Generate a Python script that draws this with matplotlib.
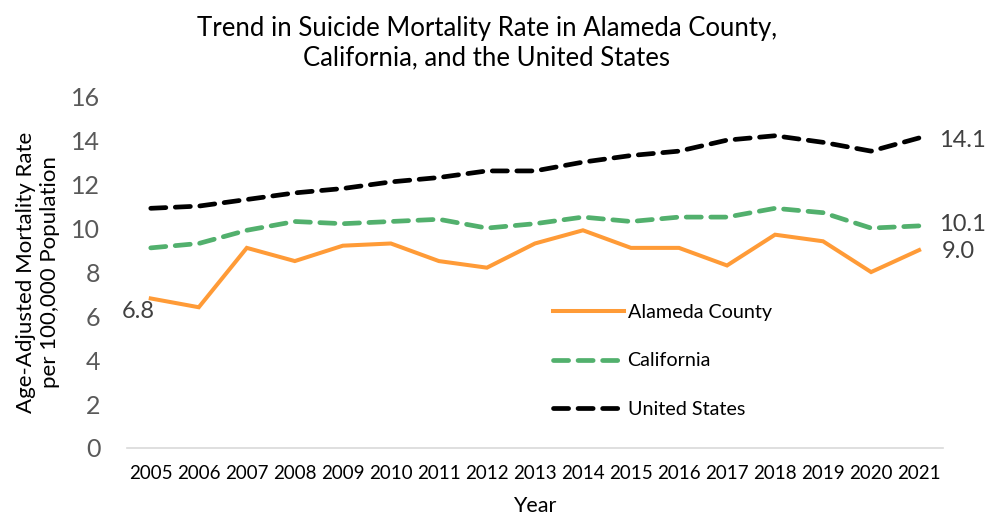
import matplotlib.pyplot as plt

# data
years = [str(y) for y in range(2005, 2022)]
alameda = [6.8, 6.4, 9.1, 8.5, 9.2, 9.3, 8.5, 8.2, 9.3, 9.9, 9.1, 9.1, 8.3, 9.7, 9.4, 8.0, 9.0]
california = [9.1, 9.3, 9.9, 10.3, 10.2, 10.3, 10.4, 10.0, 10.2, 10.5, 10.3, 10.5, 10.5, 10.9, 10.7, 10.0, 10.1]
united_states = [10.9, 11.0, 11.3, 11.6, 11.8, 12.1, 12.3, 12.6, 12.6, 13.0, 13.3, 13.5, 14.0, 14.2, 13.9, 13.5, 14.1]

plt.rcParams['font.family'] = ['Lato', 'DejaVu Sans']

fig = plt.figure(figsize=(9.98, 5.17), dpi=100)
ax = fig.add_axes([0.127, 0.1335, 0.818, 0.6805])

x = list(range(len(years)))
ax.plot(x, alameda, color='#FF9B37', lw=2.9, label='Alameda County',
        solid_joinstyle='miter')
ax.plot(x, california, color='#52B06D', lw=3.4, dashes=(3.2, 2.0),
        dash_capstyle='round', label='California')
ax.plot(x, united_states, color='black', lw=3.4, dashes=(3.2, 2.0),
        dash_capstyle='round', label='United States')

# data labels for first / last points
lab_col = '#404040'
lab_fs = 17
ax.annotate(f'{alameda[0]:.1f}', (x[0], alameda[0]), xytext=(-9, -9.5),
            textcoords='offset points', ha='center', va='center',
            fontsize=lab_fs, color=lab_col)
ax.annotate(f'{alameda[-1]:.1f}', (x[-1], alameda[-1]), xytext=(16.5, -1),
            textcoords='offset points', ha='left', va='center',
            fontsize=lab_fs, color=lab_col)
ax.annotate(f'{california[-1]:.1f}', (x[-1], california[-1]), xytext=(14, 1),
            textcoords='offset points', ha='left', va='center',
            fontsize=lab_fs, color=lab_col)
ax.annotate(f'{united_states[-1]:.1f}', (x[-1], united_states[-1]), xytext=(14, -2),
            textcoords='offset points', ha='left', va='center',
            fontsize=lab_fs, color=lab_col)

ax.set_xlim(-0.5, len(years) - 0.5)
ax.set_ylim(0, 16)
ax.set_yticks(range(0, 17, 2))
ax.set_xticks(x)
ax.set_xticklabels(years)

for s in ['top', 'right', 'left']:
    ax.spines[s].set_visible(False)
ax.spines['bottom'].set_color('#D9D9D9')
ax.spines['bottom'].set_linewidth(1.2)
ax.tick_params(axis='both', length=0)
ax.tick_params(axis='y', labelsize=18, labelcolor='#595959', pad=19)
ax.tick_params(axis='x', labelsize=13.5, labelcolor='black', pad=12)

ax.set_xlabel('Year', fontsize=15.5, labelpad=10)
ax.set_ylabel('Age-Adjusted Mortality Rate\nper 100,000 Population', fontsize=16,
              labelpad=8, linespacing=1.28)
ax.set_title('Trend in Suicide Mortality Rate in Alameda County,\n'
             'California, and the United States', fontsize=18.5, pad=22,
             linespacing=1.25, x=0.441)

ax.legend(loc='upper left', bbox_to_anchor=(0.5, 0.46), frameon=False,
          fontsize=14.2, handlelength=3.6, labelspacing=1.6, handletextpad=0.2)

plt.savefig('out.png', dpi=100)
